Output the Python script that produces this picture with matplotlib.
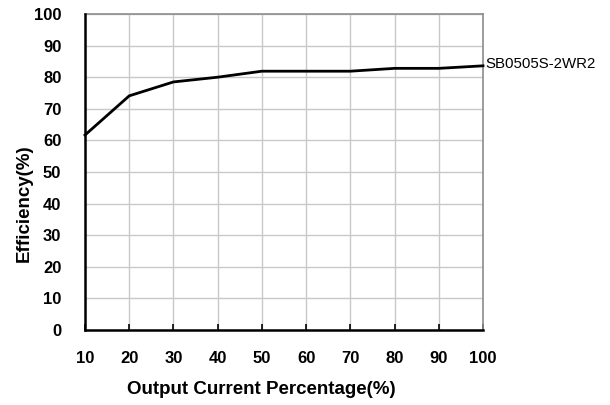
import matplotlib
matplotlib.use("Agg")
import matplotlib.pyplot as plt

load_pct = [10, 20, 30, 40, 50, 60, 70, 80, 90, 100]
efficiency = [61.7, 74.1, 78.5, 80.0, 81.9, 81.9, 81.9, 82.8, 82.8, 83.6]
series_name = "SB0505S-2WR2"
x_ticks = [10, 20, 30, 40, 50, 60, 70, 80, 90, 100]
y_ticks = [0, 10, 20, 30, 40, 50, 60, 70, 80, 90, 100]

plt.rcParams['font.family'] = ['Liberation Sans', 'DejaVu Sans']

fig = plt.figure(figsize=(6.1, 4.05), dpi=100)
ax = fig.add_axes([85/610, 75/405, (483-85)/610, (330-14)/405])

ax.plot(load_pct, efficiency, color='black', lw=2, solid_joinstyle='miter', clip_on=False, zorder=3)
ax.set_xlim(10, 100)
ax.set_ylim(0, 100)
ax.set_xticks(x_ticks)
ax.set_yticks(y_ticks)
ax.grid(True, color='#c8c8c8', lw=1)
ax.set_axisbelow(True)

for s in ['top', 'right']:
    ax.spines[s].set_color('#8c8c8c')
    ax.spines[s].set_linewidth(1.2)
for s in ['left', 'bottom']:
    ax.spines[s].set_color('black')
    ax.spines[s].set_linewidth(1.8)
    ax.spines[s].set_zorder(4)

ax.tick_params(axis='x', direction='in', length=4, width=1.2, color='black', pad=15, labelsize=12)
ax.tick_params(axis='y', length=0, pad=17, labelsize=12)
for lab in ax.get_xticklabels() + ax.get_yticklabels():
    lab.set_fontweight('bold')

ax.text(100.5, efficiency[-1] + 0.5, series_name, fontsize=10.8, va='center', ha='left')

fig.text(261/610, 1 - 390/405, "Output Current Percentage(%)", fontsize=13.5, fontweight='bold',
         ha='center', va='center')
fig.text(24/610, 1 - 203/405, "Efficiency(%)", fontsize=13.5, fontweight='bold', rotation=90,
         ha='center', va='center')

fig.savefig("out.png", dpi=100)
